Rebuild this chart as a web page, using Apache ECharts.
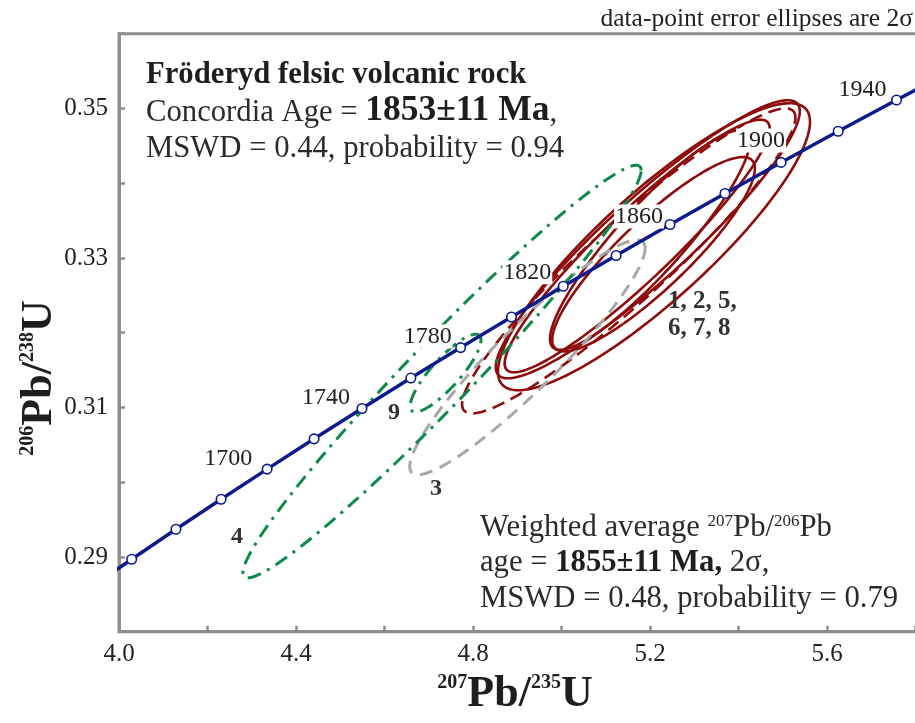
<!DOCTYPE html>
<html><head><meta charset="utf-8">
<script src="https://cdn.jsdelivr.net/npm/echarts@6/dist/echarts.min.js"></script>
<style>html,body{margin:0;padding:0;background:#fff}#c{width:915px;height:723px}</style>
</head><body><div id="c"></div>
<script>
// Concordia reference points: age (Ma), 207Pb/235U, 206Pb/238U
const concordiaAges = [1620,1640,1660,1680,1700,1720,1740,1760,1780,1800,1820,1840,1860,1880,1900,1920,1940,1960];
const concordiaX = [3.93058,4.02866,4.12869,4.23072,4.33477,4.44089,4.54912,4.65951,4.77209,4.88690,5.00401,5.12343,5.24524,5.36946,5.49616,5.62538,5.75717,5.89159];
const concordiaY = [0.28570,0.28969,0.29370,0.29772,0.30175,0.30580,0.30986,0.31393,0.31801,0.32210,0.32621,0.33033,0.33447,0.33862,0.34278,0.34695,0.35113,0.35533];
const labelledAges = [1700,1740,1780,1820,1860,1900,1940];

// Analyses: centre, 2-sigma half widths, error correlation
const spotNames = ['1','2','5','6','7','8','3','4','9'];
const spotX   = [5.209, 5.195, 5.208, 5.200, 5.171, 5.152, 4.923, 4.730, 4.738];
const spotX2s = [0.3526,0.3435,0.229, 0.226, 0.2995,0.3767,0.266, 0.450, 0.080];
const spotY   = [0.3315,0.3325,0.3305,0.3324,0.3316,0.3296,0.3167,0.3148,0.3146];
const spotY2s = [0.0192,0.0186,0.0130,0.0147,0.0169,0.0204,0.0157,0.0276,0.0052];
const spotRho = [0.87, 0.92, 0.88, 0.90, 0.93, 0.94, 0.93, 0.975, 0.85];

const xTickLabels = ['4.0','4.4','4.8','5.2','5.6'];
const yTickLabels = ['0.29','0.31','0.33','0.35'];

// ---- styling / layout (not data) ----
const SERIF = '"Liberation Serif","Times New Roman",serif';
const NAVY = '#0c1a8c';
const AXIS = '#8f8f8f';
const ellipseGroups = [
  {ids:['1','2','5','6','7'], color:'#8e0c0c', width:2.6, dash:null},
  {ids:['8'], color:'#8e0c0c', width:2.6, dash:[13,7]},
  {ids:['3'], color:'#a8a8a8', width:3, dash:[13,8]},
  {ids:['4','9'], color:'#0d8a4b', width:3, dash:[14,7,3,7]}
];
const ageLabelOffsets = {1700:[-39,-10],1740:[-36,-11],1780:[-33,-11],1820:[-36,-14],1860:[-31,-8],1900:[-20,-22],1940:[-34,-10]};

function spotRows(ids){
  return ids.map(id => { const i = spotNames.indexOf(id); return [spotX[i], spotX2s[i], spotY[i], spotY2s[i], spotRho[i]]; });
}
function makeRender(g){
  return function(params, api){
    const cx = api.value(0), sx = api.value(1), cy = api.value(2), sy = api.value(3), r = api.value(4);
    const k = Math.sqrt(1 - r*r);
    const pts = [];
    for (let i = 0; i <= 180; i++) {
      const t = i/180*2*Math.PI;
      pts.push(api.coord([cx + sx*Math.cos(t), cy + sy*(r*Math.cos(t) + k*Math.sin(t))]));
    }
    return {type:'polygon', shape:{points:pts}, style:{fill:'none', stroke:g.color, lineWidth:g.width, lineDash:g.dash || null}};
  };
}
const ellipseSeries = ellipseGroups.map(g => ({
  type:'custom', coordinateSystem:'cartesian2d', clip:true, silent:true, z:2,
  dimensions:['x','sx','y','sy','rho'], encode:{x:0, y:2},
  renderItem: makeRender(g), data: spotRows(g.ids)
}));

const markerData = concordiaAges.map((a,i) => {
  const item = {value:[concordiaX[i], concordiaY[i]]};
  if (labelledAges.includes(a)) {
    item.label = {show:true, position:'inside', offset:ageLabelOffsets[a], formatter:String(a),
      fontFamily:SERIF, fontSize:24, color:'#222', backgroundColor:'#ffffff', padding:[0,1,0,1]};
  }
  return item;
});

function T(fs, weight, extra){ return Object.assign({fontFamily:SERIF, fontSize:fs, fontWeight:weight||'normal', fill:'#2b2b2b', verticalAlign:'bottom', lineHeight:fs}, extra||{}); }

const FS = 30.7;
const richCommon = {
  r: T(FS), b: T(35.5,'bold',{fill:'#1e1e1e'}), bb: T(FS,'bold',{fill:'#1e1e1e'}),
  h: T(FS,'bold',{fill:'#1e1e1e'}),
  sup: T(17,'normal',{verticalAlign:'top', lineHeight:17})
};
function line(x, baseline, text){
  return {type:'text', x:x, y:baseline + 0.216*FS, z:10, silent:true,
    style:{text:text, rich:richCommon, align:'left', verticalAlign:'bottom', font:FS+'px '+SERIF}};
}
const titleRich = {
  s: T(20,'bold',{fill:'#1e1e1e', verticalAlign:'top', lineHeight:20}),
  p: T(44,'bold',{fill:'#1e1e1e', lineHeight:44})
};

const option = {
  animation:false,
  backgroundColor:'#ffffff',
  grid:{left:119, top:33.7, width:885, height:598, show:true, borderColor:AXIS, borderWidth:3, backgroundColor:'transparent',
    containLabel:false, outerBoundsMode:'none'},
  xAxis:{type:'value', min:4.0, max:6.0, interval:0.2,
    axisLine:{show:true, onZero:false, lineStyle:{color:AXIS, width:3}},
    axisTick:{show:true, inside:true, length:6, lineStyle:{color:AXIS, width:2.5}},
    axisLabel:{show:true, margin:10, fontFamily:SERIF, fontSize:25, color:'#222', showMinLabel:true, showMaxLabel:true,
      formatter: v => { const s = Number(v).toFixed(1); return xTickLabels.includes(s) ? s : ''; }},
    splitLine:{show:false}},
  yAxis:{type:'value', min:0.28, max:0.36, interval:0.01,
    axisLine:{show:true, onZero:false, lineStyle:{color:AXIS, width:3}},
    axisTick:{show:true, inside:true, length:6, lineStyle:{color:AXIS, width:2.5}},
    axisLabel:{show:true, margin:11, fontFamily:SERIF, fontSize:25, color:'#222',
      formatter: v => { const s = Number(v).toFixed(2); return yTickLabels.includes(s) ? s : ''; }},
    splitLine:{show:false}},
  series: ellipseSeries.concat([
    {type:'line', data:concordiaX.map((x,i)=>[x, concordiaY[i]]), showSymbol:false, symbol:'none', clip:true, z:5,
      lineStyle:{color:NAVY, width:3.5}, silent:true},
    {type:'scatter', data:markerData, symbol:'circle', symbolSize:9.5, clip:true, z:6, silent:true,
      itemStyle:{color:'#ffffff', borderColor:NAVY, borderWidth:1.6, opacity:1},
      label:{show:false}}
  ]),
  graphic:[
    {type:'text', x:913, y:32, z:10, silent:true, style:{text:'data-point error ellipses are 2σ', font:'25.5px '+SERIF, fill:'#222', align:'right', verticalAlign:'bottom'}},
    line(146, 84.3, '{h|Fröderyd felsic volcanic rock}'),
    line(146, 121.7, '{r|Concordia Age = }{b|1853±11 Ma}{r|,}'),
    line(146, 158, '{r|MSWD = 0.44, probability = 0.94}'),
    line(480, 536.7, '{r|Weighted average }{sup|207}{r|Pb/}{sup|206}{r|Pb}'),
    line(480, 571.7, '{r|age = }{bb|1855±11 Ma,}{r| 2σ,}'),
    line(480, 608.3, '{r|MSWD = 0.48, probability = 0.79}'),
    {type:'text', x:668, y:342, z:10, silent:true, style:{text:'1, 2, 5,\n6, 7, 8', font:'bold 25px '+SERIF, fill:'#333', lineHeight:27, align:'left', verticalAlign:'bottom'}},
    {type:'text', x:394, y:413, z:10, silent:true, style:{text:'9', font:'bold 24px '+SERIF, fill:'#333', align:'center', verticalAlign:'middle'}},
    {type:'text', x:436, y:489, z:10, silent:true, style:{text:'3', font:'bold 24px '+SERIF, fill:'#333', align:'center', verticalAlign:'middle'}},
    {type:'text', x:237, y:537, z:10, silent:true, style:{text:'4', font:'bold 24px '+SERIF, fill:'#333', align:'center', verticalAlign:'middle'}},
    {type:'text', x:515, y:695, z:10, silent:true, style:{text:'{s|207}{p|Pb/}{s|235}{p|U}', rich:titleRich, align:'center', verticalAlign:'middle'}},
    {type:'text', x:40, y:378, z:10, rotation:Math.PI/2, silent:true, style:{text:'{s|206}{p|Pb/}{s|238}{p|U}', rich:titleRich, align:'center', verticalAlign:'middle'}}
  ]
};
const chart = echarts.init(document.getElementById('c'), null, {renderer:'canvas'});
chart.setOption(option);
</script></body></html>
